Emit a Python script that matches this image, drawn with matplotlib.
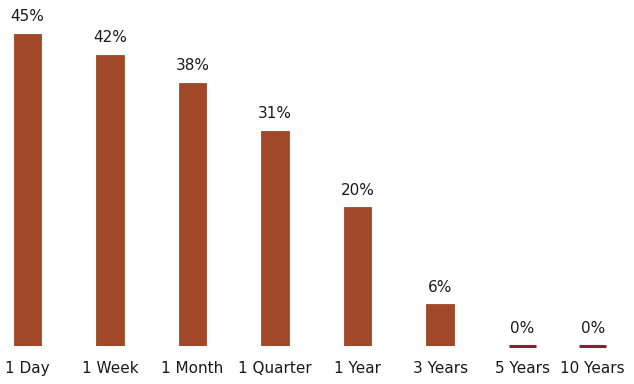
import matplotlib
matplotlib.use("Agg")
import matplotlib.pyplot as plt
import numpy as np

categories = ["1 Day", "1 Week", "1 Month", "1 Quarter", "1 Year", "3 Years", "5 Years", "10 Years"]
values = [45, 42, 38, 31, 20, 6, 0, 0]
labels = ["45%", "42%", "38%", "31%", "20%", "6%", "0%", "0%"]

plt.rcParams['font.family'] = ['DejaVu Sans']

fig = plt.figure(figsize=(6.34, 3.84), dpi=100)
ax = fig.add_axes([0, 0.099, 1, 0.901])

pos = np.arange(len(categories), dtype=float)
pos[-1] = 6.85

bar_color = "#a2482a"
zero_color = "#7a2632"
bw = 0.33
ax.bar(pos, values, width=bw, color=bar_color, edgecolor=bar_color, linewidth=0.6)

# zero-valued bars show as a thin dark line at baseline
for p, v in zip(pos, values):
    if v == 0:
        ax.hlines(v, p - bw / 2, p + bw / 2, colors=zero_color, linewidth=2.2,
                  clip_on=False)

for p, v, lab in zip(pos, values, labels):
    ax.annotate(lab, (p, v), xytext=(0, 7), textcoords="offset points",
                ha="center", va="bottom", fontsize=11, color="#1a1a1a")

ax.set_xlim(-0.333, 7.35)
ax.set_ylim(0, 49.9)
ax.set_xticks(pos)
ax.set_xticklabels(categories, fontsize=11, color="#1a1a1a")
ax.tick_params(axis="x", length=0, pad=11)
ax.set_yticks([])
for s in ax.spines.values():
    s.set_visible(False)

fig.savefig("out.png", dpi=100)
